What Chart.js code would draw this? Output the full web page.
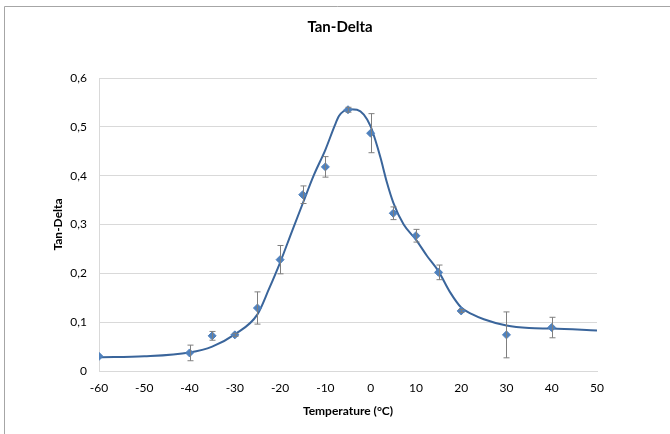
<!DOCTYPE html>
<html>
<head>
<meta charset="utf-8">
<script src="https://cdn.jsdelivr.net/npm/chart.js@4/dist/chart.umd.min.js"></script>
<style>
  html, body { margin: 0; padding: 0; background: #fff; }
  #wrap { width: 670px; height: 434px; position: relative; }
</style>
</head>
<body>
<div id="wrap"><canvas id="chartTan" width="670" height="434"></canvas></div>
<script>
// measured points (temperature, tan delta, error)
const tempX = [-60, -40, -35, -30, -25, -20, -15, -10, -5, 0, 5, 10, 15, 20, 30, 40];
const tanDelta = [0.030, 0.037, 0.072, 0.074, 0.129, 0.228, 0.361, 0.418, 0.535, 0.487, 0.323, 0.277, 0.202, 0.123, 0.074, 0.089];
const tanErr = [0, 0.016, 0.009, 0.003, 0.033, 0.029, 0.018, 0.021, 0.005, 0.040, 0.013, 0.013, 0.015, 0.003, 0.047, 0.021];

// fitted curve
const curveX = [-60, -50, -40, -35, -30, -25, -22.5, -20, -17.5, -15, -12.5, -10, -8, -7, -6, -4.5, -3, -1.5, 0, 1, 2.2, 3.6, 5, 7.3, 10, 12.5, 15, 17.5, 20, 22.5, 25, 30, 35, 40, 50];
const curveY = [0.028, 0.030, 0.038, 0.050, 0.075, 0.116, 0.167, 0.222, 0.283, 0.343, 0.402, 0.453, 0.501, 0.522, 0.532, 0.536, 0.535, 0.525, 0.501, 0.474, 0.436, 0.386, 0.345, 0.300, 0.269, 0.235, 0.204, 0.162, 0.130, 0.116, 0.106, 0.093, 0.088, 0.087, 0.083];

const chartTitle = 'Tan-Delta';
const FONT = "Lato, 'Open Sans', sans-serif";

// frame, title and error bars
const errorBars = {
    id: 'errorBars',
    beforeDraw(chart) {
        const ctx = chart.ctx;
        ctx.save();
        ctx.strokeStyle = '#A6A6A6';
        ctx.lineWidth = 1;
        ctx.beginPath();
        ctx.moveTo(4.5, 434);
        ctx.lineTo(4.5, 6.5);
        ctx.lineTo(670, 6.5);
        ctx.stroke();
        // title centred on the whole box, like excel does
        ctx.fillStyle = '#000';
        ctx.font = 'bold 15px ' + FONT;
        ctx.textAlign = 'center';
        ctx.textBaseline = 'middle';
        ctx.fillText(chartTitle, 340, 27);
        ctx.restore();
    },
    afterDatasetsDraw(chart) {
        const ctx = chart.ctx;
        const xs = chart.scales.x, ys = chart.scales.y;
        ctx.save();
        ctx.strokeStyle = '#7F7F7F';
        ctx.lineWidth = 1;
        tempX.forEach((t, i) => {
            if (!tanErr[i]) return;
            const px = Math.round(xs.getPixelForValue(t)) + 0.5;
            const top = ys.getPixelForValue(tanDelta[i] + tanErr[i]);
            const bot = ys.getPixelForValue(tanDelta[i] - tanErr[i]);
            ctx.beginPath();
            ctx.moveTo(px, top); ctx.lineTo(px, bot);
            ctx.moveTo(px - 3, top); ctx.lineTo(px + 3, top);
            ctx.moveTo(px - 3, bot); ctx.lineTo(px + 3, bot);
            ctx.stroke();
        });
        ctx.restore();
    }
};

new Chart(document.getElementById('chartTan'), {
    type: 'scatter',
    data: {
        datasets: [{
            label: 'Fit',
            data: curveX.map((x, i) => ({ x: x, y: curveY[i] })),
            showLine: true,
            borderColor: '#3A659B',
            borderWidth: 2,
            pointRadius: 0,
            cubicInterpolationMode: 'monotone',
            order: 2
        }, {
            label: 'Tan-Delta',
            data: tempX.map((x, i) => ({ x: x, y: tanDelta[i] })),
            pointStyle: 'rectRot',
            pointRadius: 4,
            backgroundColor: '#4F81BD',
            borderColor: '#4F81BD',
            order: 1
        }]
    },
    options: {
        responsive: false,
        animation: false,
        layout: { padding: { left: 0, right: 73, top: 78, bottom: 0 } },
        plugins: {
            legend: { display: false },
            tooltip: { enabled: false },
            title: { display: false }
        },
        scales: {
            x: {
                type: 'linear',
                min: -60, max: 50,
                ticks: { stepSize: 10, color: '#000', padding: 10, font: { family: FONT, size: 12 } },
                grid: { display: false, drawTicks: false },
                border: { display: true, color: '#D9D9D9' },
                title: {
                    display: true,
                    text: 'Temperature (°C)',
                    color: '#000',
                    font: { family: FONT, size: 12, weight: 'bold', lineHeight: 1.2 },
                    padding: { top: 0, bottom: 16 }
                },
                afterFit(s) { s.height = 63; }
            },
            y: {
                min: 0, max: 0.6,
                ticks: {
                    stepSize: 0.1, color: '#000', padding: 12,
                    font: { family: FONT, size: 12 },
                    callback: v => v === 0 ? '0' : v.toFixed(1).replace('.', ',')
                },
                grid: { color: '#D9D9D9', drawTicks: false },
                border: { display: true, color: '#D9D9D9' },
                title: {
                    display: true,
                    text: 'Tan-Delta',
                    color: '#000',
                    font: { family: FONT, size: 12, weight: 'bold', lineHeight: 1.2 },
                    padding: { top: 51, bottom: 0 }
                },
                afterFit(s) { s.width = 99; }
            }
        }
    },
    plugins: [errorBars]
});
</script>
</body>
</html>
